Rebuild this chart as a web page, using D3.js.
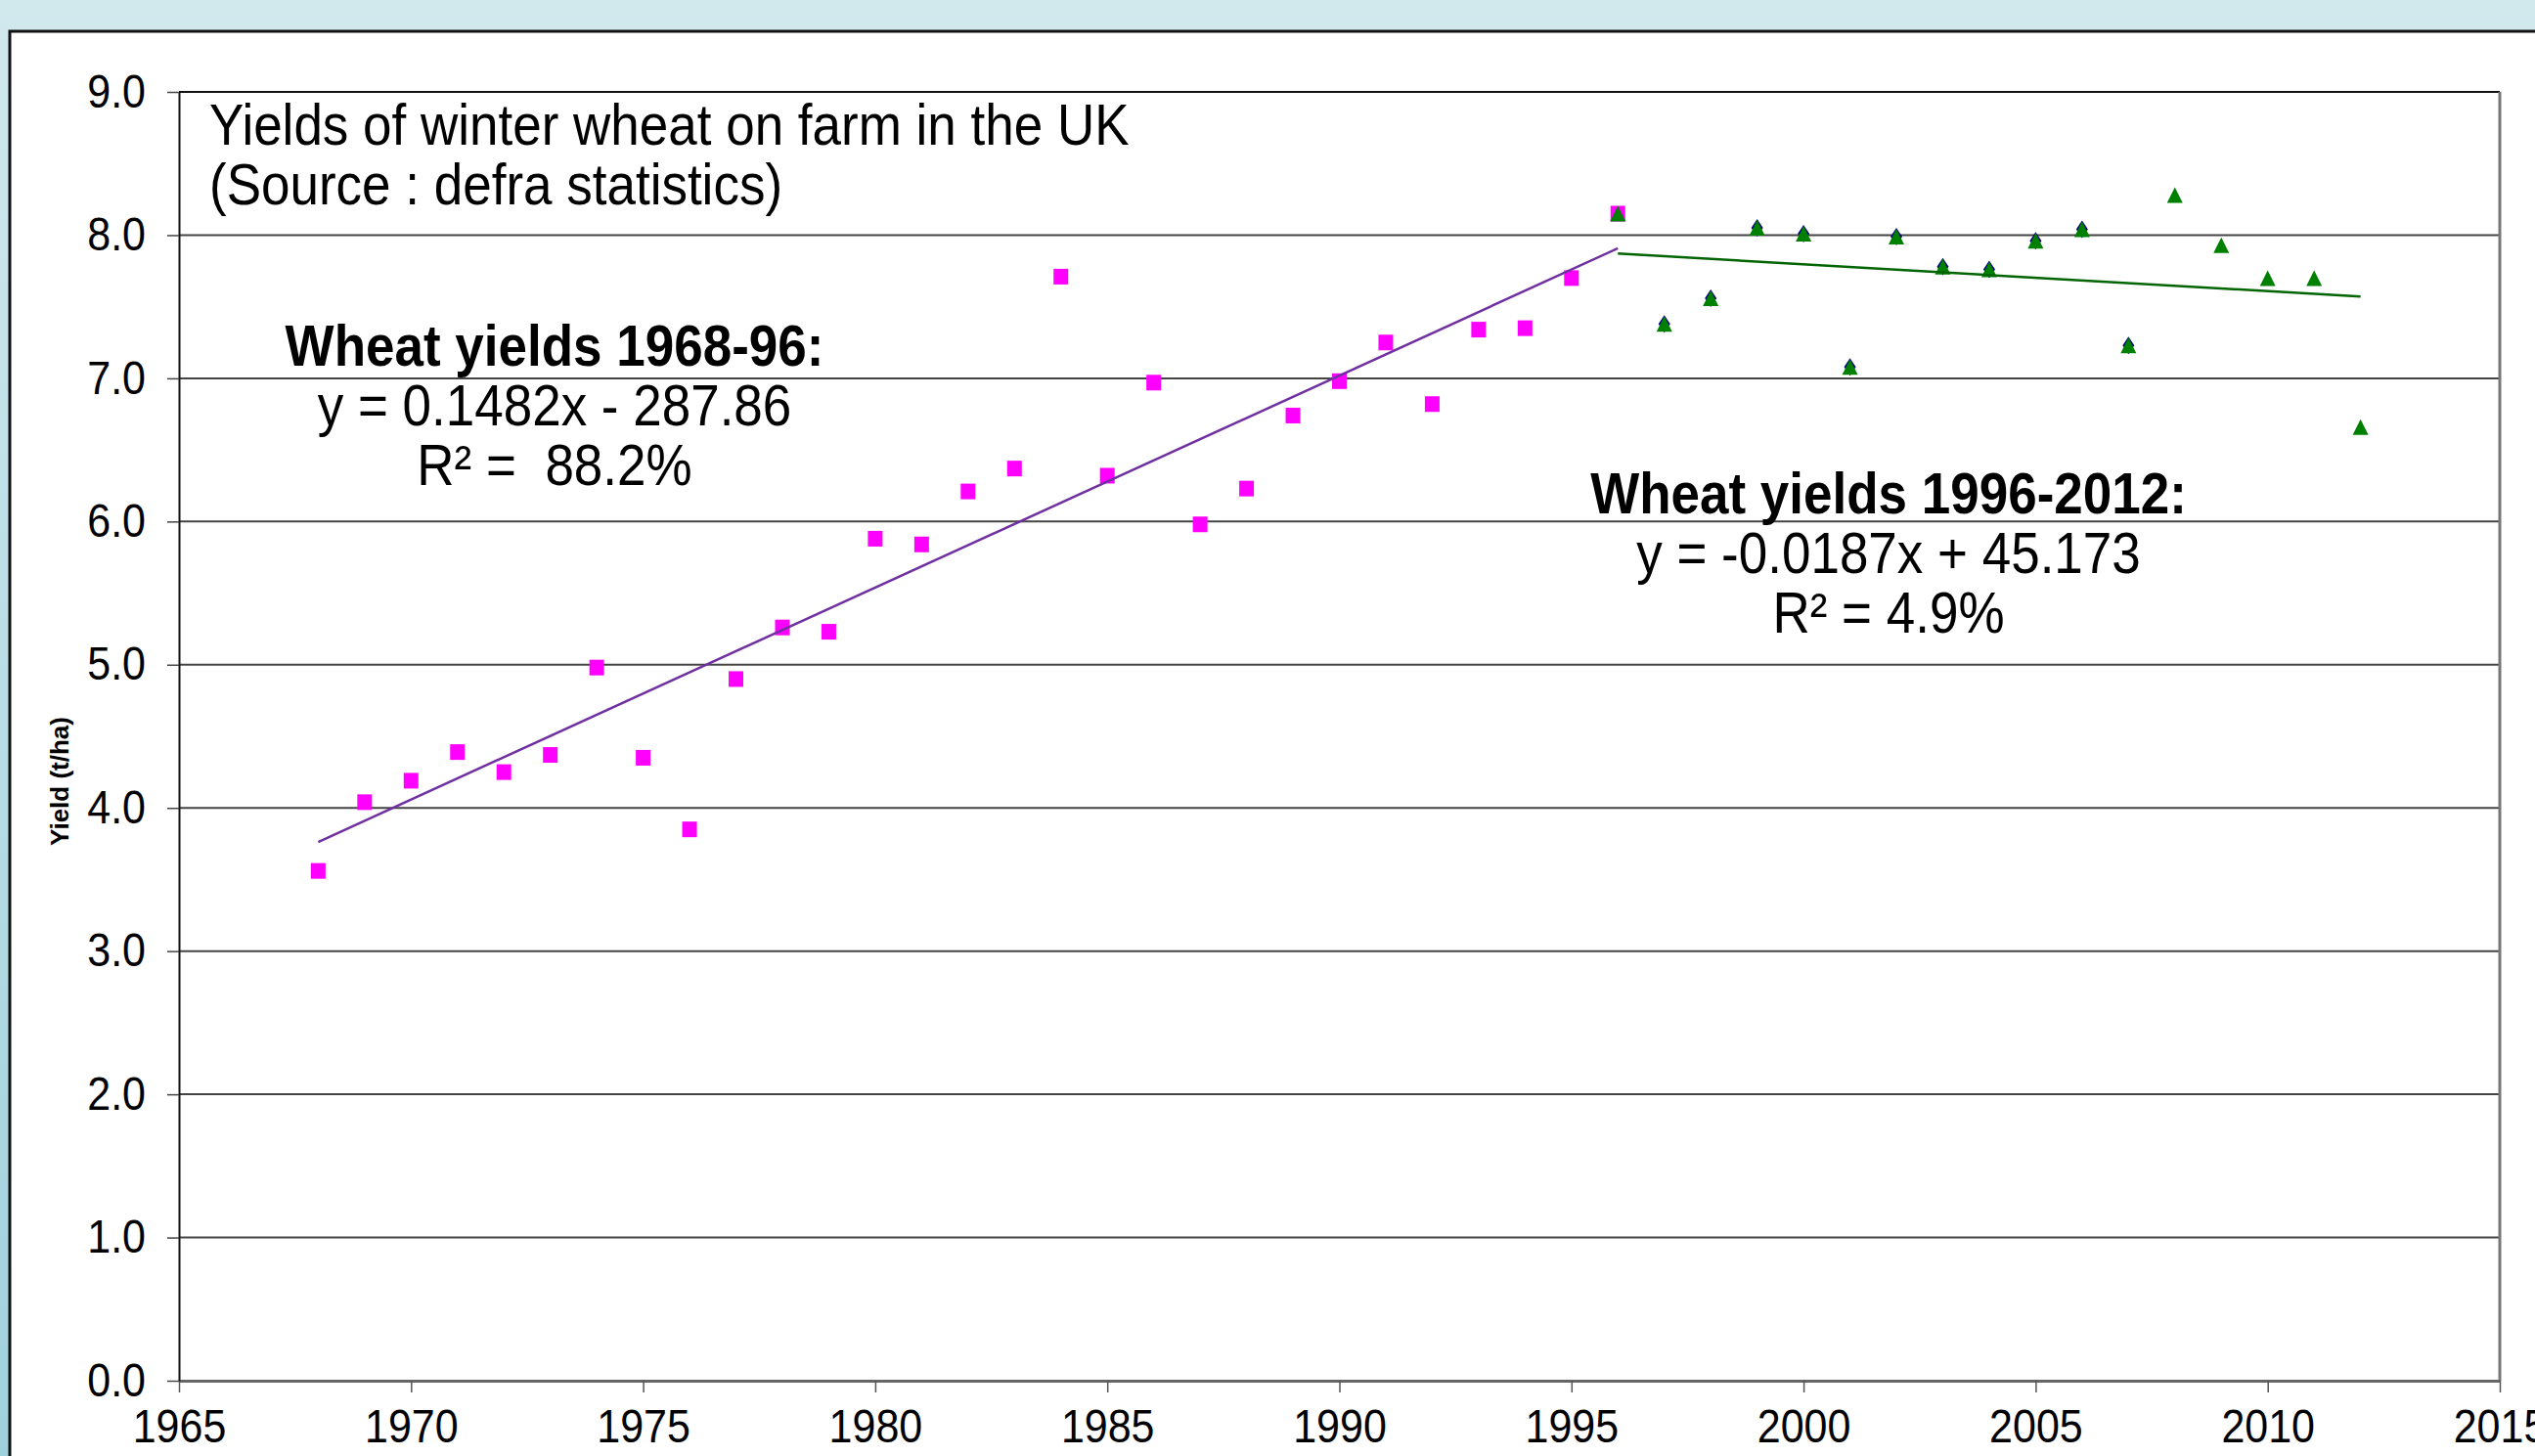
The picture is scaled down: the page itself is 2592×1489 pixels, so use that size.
<!DOCTYPE html>
<html>
<head>
<meta charset="utf-8">
<script src="https://cdn.jsdelivr.net/npm/d3@7"></script>
<style>
  body { margin: 0; background: #cfe8ed; }
  svg { display: block; }
  text { font-family: "Liberation Sans", Arial, sans-serif; fill: #000; white-space: pre; }
</style>
</head>
<body>
<div class="svg-container"></div>
<script>
var width = 2592;
var height = 1489;

var padding = { "top": 94,
                "right": 36,
                "bottom": 77,
                "left": 183 };

// text in the source is a bit taller than plain Arial
var stretch = 1.1;

// yields, t/ha
var years6896 = [1968, 1969, 1970, 1971, 1972, 1973, 1974, 1975, 1976, 1977,
                 1978, 1979, 1980, 1981, 1982, 1983, 1984, 1985, 1986, 1987,
                 1988, 1989, 1990, 1991, 1992, 1993, 1994, 1995, 1996];
var yield6896 = [3.56, 4.04, 4.19, 4.39, 4.25, 4.37, 4.98, 4.35, 3.85, 4.90,
                 5.26, 5.23, 5.88, 5.84, 6.21, 6.37, 7.71, 6.32, 6.97, 5.98,
                 6.23, 6.74, 6.98, 7.25, 6.82, 7.34, 7.35, 7.70, 8.15];

var years9612 = [1996, 1997, 1998, 1999, 2000, 2001, 2002, 2003, 2004,
                 2005, 2006, 2007, 2008, 2009, 2010, 2011, 2012];
var yield9612 = [8.15, 7.38, 7.56, 8.05, 8.01, 7.08, 7.99, 7.78, 7.76,
                 7.96, 8.04, 7.23, 8.28, 7.93, 7.70, 7.70, 6.66];

// older series shows through behind the triangles for these years
var navyYears = [1997, 1998, 1999, 2000, 2001, 2002, 2003, 2004, 2005, 2006, 2007];

var xTickValues = [1965, 1970, 1975, 1980, 1985, 1990, 1995, 2000, 2005, 2010, 2015];
var yTickValues = [0, 1, 2, 3, 4, 5, 6, 7, 8, 9];

var titleLines = ["Yields of winter wheat on farm in the UK", "(Source : defra statistics)"];
var noteLeft = ["Wheat yields 1968-96:", "y = 0.1482x - 287.86", "R\u00b2 =  88.2%"];
var noteRight = ["Wheat yields 1996-2012:", "y = -0.0187x + 45.173", "R\u00b2 = 4.9%"];

var data6896 = years6896.map(function(y, i) { return { year: y, value: yield6896[i] }; });
var data9612 = years9612.map(function(y, i) { return { year: y, value: yield9612[i] }; });
var dataNavy = data9612.filter(function(d) { return navyYears.indexOf(d.year) >= 0; });

var plotW = width - padding.left - padding.right;
var plotH = height - padding.top - padding.bottom;

var scaleX = d3.scaleLinear().domain([1965, 2015]).range([0, plotW]);
var scaleY = d3.scaleLinear().domain([0, 9]).range([plotH, 0]);

var svg = d3.select(".svg-container").append("svg")
            .attr("width", width)
            .attr("height", height);

var defs = svg.append("defs");
var grad = defs.append("linearGradient")
               .attr("id", "bg")
               .attr("x1", 0).attr("y1", 0).attr("x2", 0).attr("y2", 1);
grad.append("stop").attr("offset", "0%").attr("stop-color", "#d1e8ed");
grad.append("stop").attr("offset", "100%").attr("stop-color", "#9fd1dc");

svg.append("rect")
    .attr("width", width).attr("height", height)
    .attr("fill", "url(#bg)");

// white slide panel
svg.append("rect")
    .attr("x", 10).attr("y", 32)
    .attr("width", width + 50).attr("height", height + 50)
    .attr("fill", "#fff")
    .attr("stroke", "#111")
    .attr("stroke-width", 3);

var g = svg.append("g")
           .attr("transform", "translate(" + padding.left + "," + padding.top + ")");

// gridlines
g.append("g").attr("class", "grid")
  .selectAll("line")
  .data(yTickValues)
  .enter()
  .append("line")
    .attr("x1", 0).attr("x2", plotW)
    .attr("y1", function(d) { return scaleY(d); })
    .attr("y2", function(d) { return scaleY(d); })
    .attr("stroke", function(d) { return d == 9 ? "#111" : "#444"; })
    .attr("stroke-width", 2);

// right border of the plot
g.append("line")
  .attr("x1", plotW).attr("x2", plotW)
  .attr("y1", 0).attr("y2", plotH)
  .attr("stroke", "#777").attr("stroke-width", 3);

// axes
var xAxis = g.append("g")
             .attr("class", "xAxis")
             .attr("transform", "translate(0," + plotH + ")")
             .call(d3.axisBottom(scaleX).tickValues(xTickValues).tickFormat(d3.format("d"))
                     .tickSizeInner(12).tickSizeOuter(0).tickPadding(15));
xAxis.select(".domain").attr("stroke", "#666").attr("stroke-width", 3);
xAxis.selectAll(".tick line").attr("stroke", "#555").attr("stroke-width", 1.5);
xAxis.selectAll("text")
     .attr("font-size", 43)
     .attr("font-family", "Liberation Sans, Arial, sans-serif")
     .attr("transform", "scale(1," + stretch + ")");

var yAxis = g.append("g")
             .attr("class", "yAxis")
             .call(d3.axisLeft(scaleY).tickValues(yTickValues).tickFormat(d3.format(".1f"))
                     .tickSizeInner(12).tickSizeOuter(0).tickPadding(22));
yAxis.select(".domain").attr("stroke", "#111").attr("stroke-width", 2);
yAxis.selectAll(".tick line").attr("stroke", "#444").attr("stroke-width", 1.5);
yAxis.selectAll("text")
     .attr("font-size", 43)
     .attr("font-family", "Liberation Sans, Arial, sans-serif")
     .attr("transform", "scale(1," + stretch + ")");

// least squares fit of a series
function fitLine(dataset) {
  var mx = d3.mean(dataset, function(d) { return d.year; });
  var my = d3.mean(dataset, function(d) { return d.value; });
  var sxy = d3.sum(dataset, function(d) { return (d.year - mx) * (d.value - my); });
  var sxx = d3.sum(dataset, function(d) { return (d.year - mx) * (d.year - mx); });
  var slope = sxy / sxx;
  var ext = d3.extent(dataset, function(d) { return d.year; });
  return ext.map(function(x) { return { year: x, value: my + slope * (x - mx) }; });
}

var line = d3.line()
             .x(function(d) { return scaleX(d.year); })
             .y(function(d) { return scaleY(d.value); });

// markers
g.append("g").attr("class", "squares")
  .selectAll("rect")
  .data(data6896)
  .enter()
  .append("rect")
    .attr("x", function(d) { return scaleX(d.year) - 7.5; })
    .attr("y", function(d) { return scaleY(d.value) - 8; })
    .attr("width", 15).attr("height", 16)
    .attr("fill", "#ff00ff");

g.append("g").attr("class", "diamonds")
  .selectAll("path")
  .data(dataNavy)
  .enter()
  .append("path")
    .attr("transform", function(d) { return "translate(" + scaleX(d.year) + "," + scaleY(d.value) + ")"; })
    .attr("d", "M0,-9L6,0L0,9L-6,0Z")
    .attr("fill", "#000080");

g.append("g").attr("class", "triangles")
  .selectAll("path")
  .data(data9612)
  .enter()
  .append("path")
    .attr("transform", function(d) { return "translate(" + scaleX(d.year) + "," + scaleY(d.value) + ")"; })
    .attr("d", "M0,-8L8,8L-8,8Z")
    .attr("fill", "#008000");

// trend lines
g.append("path")
  .datum(fitLine(data6896))
  .attr("fill", "none")
  .attr("stroke", "#7030a0")
  .attr("stroke-width", 2.5)
  .attr("d", line);

g.append("path")
  .datum(fitLine(data9612))
  .attr("fill", "none")
  .attr("stroke", "#006400")
  .attr("stroke-width", 2.5)
  .attr("d", line);

// title and notes
function textBlock(lines, x, y, anchor, boldFirst) {
  var t = svg.append("g");
  lines.forEach(function(s, i) {
    t.append("text")
      .attr("transform", "translate(" + x + "," + (y + i * 61) + ") scale(1," + stretch + ")")
      .attr("text-anchor", anchor)
      .attr("font-size", 53)
      .attr("font-weight", boldFirst && i == 0 ? "bold" : "normal")
      .text(s);
  });
}

textBlock(titleLines, 214, 148, "start", false);
textBlock(noteLeft, 567, 374, "middle", true);
textBlock(noteRight, 1931, 525, "middle", true);

// y axis label
svg.append("text")
    .attr("transform", "translate(70,799) rotate(-90)")
    .attr("text-anchor", "middle")
    .attr("font-size", 26)
    .attr("font-weight", "bold")
    .text("Yield (t/ha)");
</script>
</body>
</html>
